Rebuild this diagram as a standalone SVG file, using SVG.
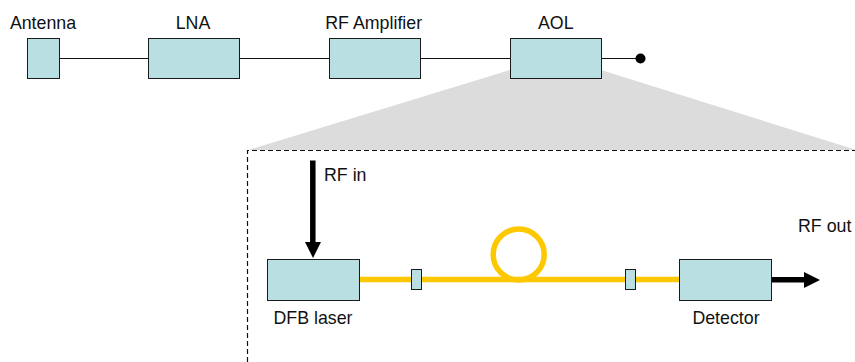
<svg xmlns="http://www.w3.org/2000/svg" width="855" height="362" viewBox="0 0 855 362">
<style>
.box{fill:#b9dfe2;stroke:#1a1a1a;stroke-width:1}
.t{font-family:"Liberation Sans",Arial,sans-serif;font-size:17.8px;fill:#111}
.m{text-anchor:middle}
.wire{stroke:#111;stroke-width:1;fill:none}
.fiber{stroke:#fdc800;stroke-width:5.500;fill:none}
.rf{stroke:#000;stroke-width:5.500;fill:none}
</style>
<polygon id="zoom-wedge" points="510,70 601,70 855,149.500 855,150 248,150" fill="#dcdcdc"/>
<path id="zoom-frame" d="M247.500,362V150.500H855" fill="none" stroke="#111" stroke-width="1.200" stroke-dasharray="5 3"/>
<g id="connectors">
<path class="wire" d="M59,58.500H149M240,58.500H329M421,58.500H510M601,58.500H640"/>
<path class="fiber" d="M359,279.500H680"/>
<circle class="fiber" cx="518.700" cy="254.500" r="25.500"/>
<path class="rf" d="M312.800,160.500V245"/>
<polygon points="305,242 321,242 313,258"/>
<path class="rf" d="M772,279.800H806"/>
<polygon points="804,272 820,280 804,288"/>
</g>
<g id="antenna"><rect class="box" x="27.500" y="38.500" width="32" height="40"/><text class="t m" x="43" y="29">Antenna</text></g>
<g id="lna"><rect class="box" x="148.500" y="38.500" width="91" height="40"/><text class="t m" x="193" y="29">LNA</text></g>
<g id="rf-amplifier"><rect class="box" x="329.500" y="38.500" width="91" height="40"/><text class="t m" x="373.700" y="29">RF Amplifier</text></g>
<g id="aol"><rect class="box" x="510.500" y="38.500" width="91" height="40"/><text class="t m" x="555.800" y="29">AOL</text></g>
<g id="output-terminal"><circle cx="640.500" cy="58.500" r="5"/></g>
<g id="rf-in"><text class="t" x="324" y="181">RF in</text></g>
<g id="dfb-laser"><rect class="box" x="267.500" y="259.500" width="92" height="41"/><text class="t m" x="313" y="324">DFB laser</text></g>
<g id="coupler-1"><rect class="box" x="411.500" y="269.500" width="10" height="20"/></g>
<g id="coupler-2"><rect class="box" x="625.500" y="269.500" width="10" height="20"/></g>
<g id="detector"><rect class="box" x="679.500" y="259.500" width="92" height="41"/><text class="t m" x="726" y="324">Detector</text></g>
<g id="rf-out"><text class="t" x="798" y="232">RF out</text></g>
</svg>
